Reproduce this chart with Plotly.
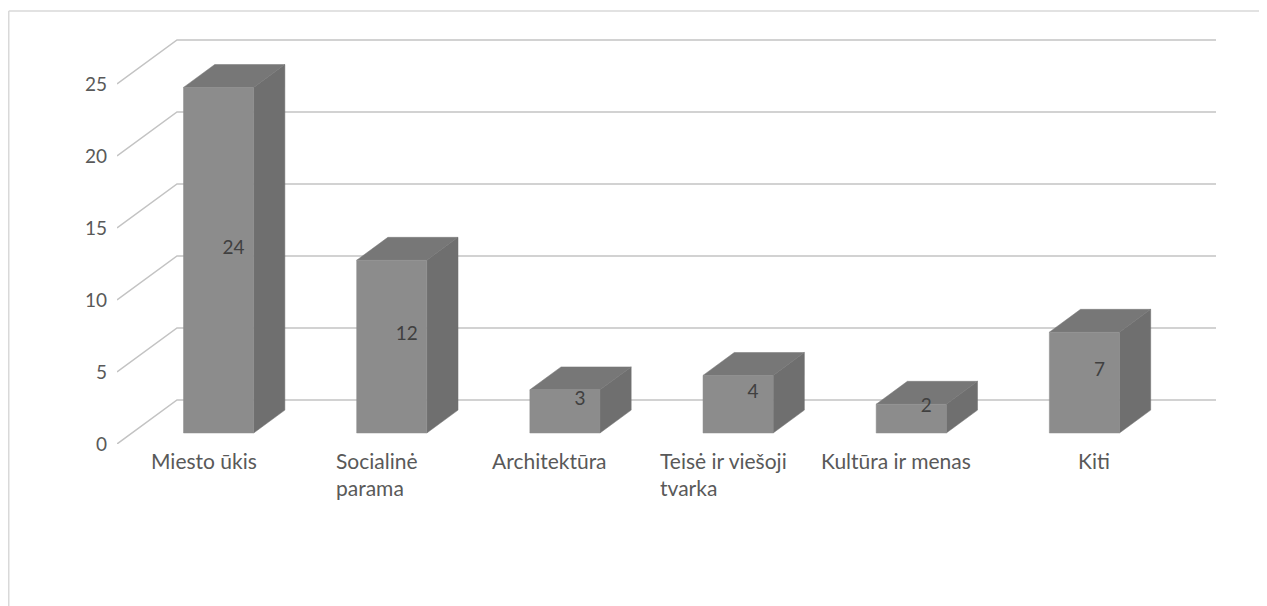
import plotly.graph_objects as go

categories = ["Miesto ūkis", "Socialinė<br>parama", "Architektūra",
              "Teisė ir viešoji<br>tvarka", "Kultūra ir menas", "Kiti"]
values = [24, 12, 3, 4, 2, 7]
y_ticks = [0, 5, 10, 15, 20, 25]

# pseudo-3D geometry (in axis units)
DX, DY = 0.3465, 3.056      # floor depth vector
F0, F1 = 0.25, 0.77         # bar depth span (fraction of floor depth)
BW = 0.405                  # bar width in category units
FRONT, SIDE, TOP = "#8c8c8c", "#6f6f6f", "#777777"
GRID = "#c3c3c3"
FONT = "Lato, 'Open Sans', sans-serif"

fig = go.Figure()
n = len(categories)

# back wall gridlines + left wall diagonals
for v in y_ticks:
    fig.add_trace(go.Scatter(
        x=[-0.5, -0.5 + DX, n - 0.5 + DX], y=[v, v + DY, v + DY],
        mode="lines", line=dict(color=GRID, width=1.5),
        hoverinfo="skip", showlegend=False))

dD = F1 - F0
for i, v in enumerate(values):
    x0 = i - BW / 2 + F0 * DX
    x1 = i + BW / 2 + F0 * DX
    y0 = F0 * DY
    y1 = v + F0 * DY
    ox, oy = dD * DX, dD * DY
    faces = [
        ([x1, x1 + ox, x1 + ox, x1, x1], [y0, y0 + oy, y1 + oy, y1, y0], SIDE),
        ([x0, x1, x1 + ox, x0 + ox, x0], [y1, y1, y1 + oy, y1 + oy, y1], TOP),
        ([x0, x1, x1, x0, x0], [y0, y0, y1, y1, y0], FRONT),
    ]
    for fx, fy, col in faces:
        fig.add_trace(go.Scatter(
            x=fx, y=fy, mode="lines", fill="toself", fillcolor=col,
            line=dict(color=col, width=0.5), hoverinfo="skip", showlegend=False))

# data labels at the centre of each bar volume
fig.add_trace(go.Scatter(
    x=[i + 0.5 * DX for i in range(n)],
    y=[v / 2 + 0.5 * DY for v in values],
    mode="text", text=[str(v) for v in values],
    textfont=dict(family=FONT, size=19, color="#404040"),
    hoverinfo="skip", showlegend=False))

# category labels
nudge = {5: 0.14}
for i, c in enumerate(categories):
    fig.add_annotation(
        x=i + nudge.get(i, 0), y=-0.006, xref="x", yref="paper",
        text=c, showarrow=False, xanchor="center", yanchor="top",
        align="left", font=dict(family=FONT, size=21, color="#595959"))

# chart area border (top and left)
fig.add_shape(type="line", xref="paper", yref="paper",
              x0=-0.0985, x1=1.2, y0=1.0665, y1=1.0665,
              line=dict(color="#d9d9d9", width=1.5))
fig.add_shape(type="line", xref="paper", yref="paper",
              x0=-0.0985, x1=-0.0985, y0=1.0665, y1=-0.6,
              line=dict(color="#d9d9d9", width=1.5))

fig.update_layout(
    width=1259, height=598, autosize=False,
    margin=dict(l=109, r=51, t=30, b=162),
    paper_bgcolor="white", plot_bgcolor="white",
    font=dict(family=FONT, size=19, color="#595959"),
    xaxis=dict(range=[-0.5, n - 0.5 + DX], showgrid=False, zeroline=False,
               showticklabels=False, showline=False, fixedrange=True),
    yaxis=dict(range=[0, 406 / 14.4], showgrid=False, zeroline=False,
               showline=False, tickvals=y_ticks, ticks="",
               ticklabelstandoff=9,
               tickfont=dict(family=FONT, size=19, color="#595959"),
               fixedrange=True),
)

fig.write_html("out.html")
